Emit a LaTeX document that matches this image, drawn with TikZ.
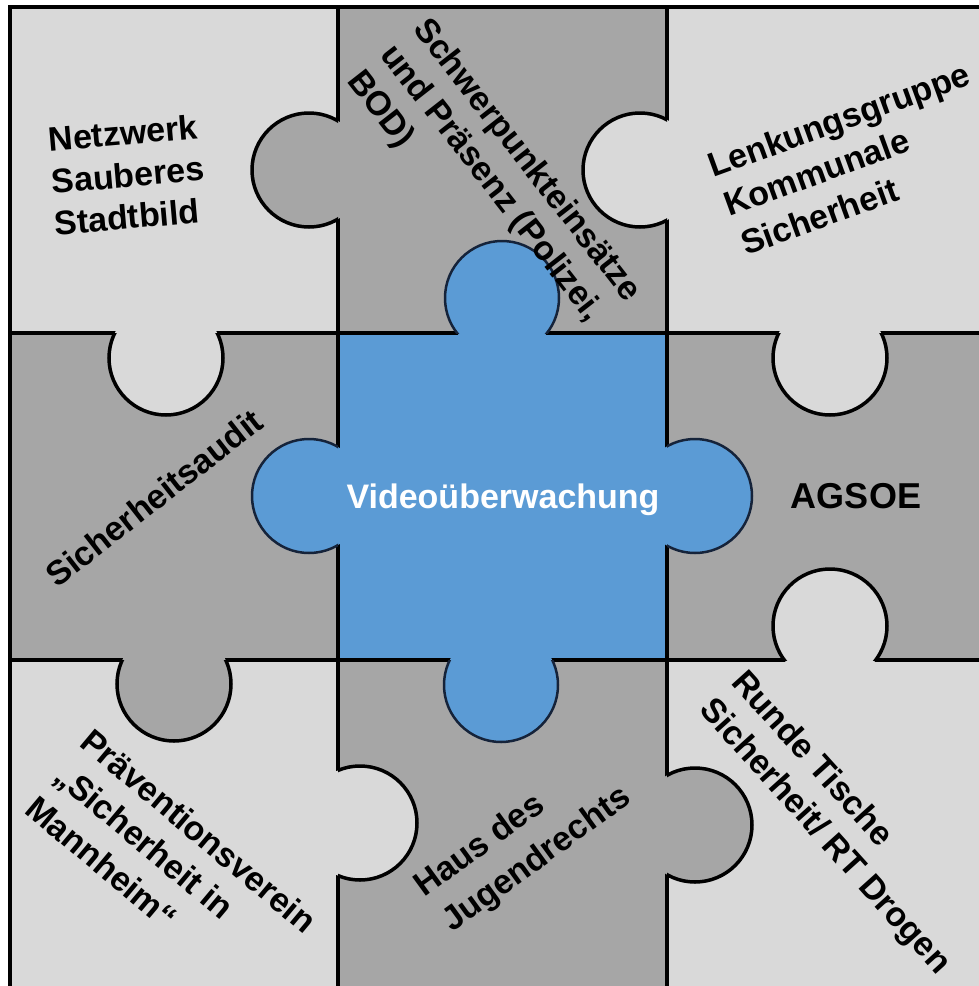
\documentclass[tikz,border=0pt]{standalone}
\usepackage{fontspec}
\setmainfont{Liberation Sans}
\definecolor{lightp}{HTML}{D9D9D9}
\definecolor{darkp}{HTML}{A6A6A6}
\definecolor{bluep}{HTML}{5B9BD5}
\definecolor{blueline}{HTML}{15233A}
\newcommand\puzzleknob[6]{%
  \fill[#3] (#1,#2) circle[radius=57];
  \begin{scope}\clip #4 rectangle #5; \draw[#6] (#1,#2) circle[radius=57];\end{scope}}
\begin{document}
\begin{tikzpicture}[x=1pt,y=-1pt,
  gridline/.style={line width=4pt, draw=black},
  knobline/.style={line width=3.5pt, draw=black},
  blueknob/.style={line width=2.5pt, draw=blueline},
  lbl/.style={font=\fontsize{34}{41}\selectfont\bfseries, inner sep=0pt, text=black}]
\useasboundingbox (0,0) rectangle (979,986);
\clip (0,0) rectangle (979,986);
\fill[white] (0,0) rectangle (979,986);
% cells
\fill[lightp] (10,7) rectangle (338,333);
\fill[darkp]  (338,7) rectangle (667,333);
\fill[lightp] (667,7) rectangle (1000,333);
\fill[darkp]  (10,333) rectangle (338,660);
\fill[bluep]  (338,333) rectangle (667,660);
\fill[darkp]  (667,333) rectangle (1000,660);
\fill[lightp] (10,660) rectangle (338,1000);
\fill[darkp]  (338,660) rectangle (667,1000);
\fill[lightp] (667,660) rectangle (1000,1000);
% grid
\draw[gridline] (8,7) -- (1000,7);
\draw[gridline] (10,5) -- (10,1000);
\draw[gridline] (338,7) -- (338,1000);
\draw[gridline] (667,7) -- (667,1000);
\draw[gridline] (10,333) -- (1000,333);
\draw[gridline] (10,660) -- (1000,660);
% knobs
\puzzleknob{309}{170}{darkp}{(0,7)}{(338,333)}{knobline}
\puzzleknob{640}{170}{lightp}{(338,7)}{(667,333)}{knobline}
\puzzleknob{166}{358}{lightp}{(10,333)}{(338,660)}{knobline}
\puzzleknob{830}{358}{lightp}{(667,333)}{(1000,660)}{knobline}
\puzzleknob{502}{298}{bluep}{(338,7)}{(667,333)}{blueknob}
\puzzleknob{309}{496}{bluep}{(10,333)}{(338,660)}{blueknob}
\puzzleknob{695}{496}{bluep}{(667,333)}{(1000,660)}{blueknob}
\puzzleknob{501}{685}{bluep}{(338,660)}{(667,1000)}{blueknob}
\puzzleknob{830}{626}{lightp}{(667,333)}{(1000,660)}{knobline}
\puzzleknob{174}{684}{darkp}{(10,660)}{(338,1000)}{knobline}
\puzzleknob{360}{823}{lightp}{(338,660)}{(667,1000)}{knobline}
\puzzleknob{695}{825}{darkp}{(667,660)}{(1000,1000)}{knobline}
% labels
\node[lbl, rotate=5, anchor=base] (nw1) at (124,145) {Netzwerk};
\node[lbl, rotate=5, anchor=base] (nw2) at (129,187) {Sauberes};
\node[lbl, rotate=5, anchor=base] (nw3) at (128,229) {Stadtbild};
\node[lbl, rotate=-52, anchor=base west] (sp1) at (412,29) {Schwerpunkteinsätze};
\node[lbl, rotate=-52, anchor=base west] (sp2) at (379,55) {und Präsenz (Polizei,};
\node[lbl, rotate=-52, anchor=base west] (sp3) at (346,81) {BOD)};
\node[lbl, rotate=20, anchor=base west] (lk1) at (713,178) {Lenkungsgruppe};
\node[lbl, rotate=20, anchor=base west] (lk2) at (729,217) {Kommunale};
\node[lbl, rotate=20, anchor=base west] (lk3) at (746,256) {Sicherheit};
\node[lbl, rotate=38, anchor=base west] (sa) at (57,589) {Sicherheitsaudit};
\node[lbl, text=white, anchor=base] (vu) at (503,508) {Videoüberwachung};
\node[lbl, font=\fontsize{36}{43}\selectfont\bfseries, anchor=base] (ag) at (856,508) {AGSOE};
\node[lbl, rotate=-40, anchor=base west] (pv1) at (78,745) {Präventionsverein};
\node[lbl, rotate=-40, anchor=base west] (pv2) at (52,779) {„Sicherheit in};
\node[lbl, rotate=-40, anchor=base west] (pv3) at (23,812) {Mannheim“};
\node[lbl, rotate=36, anchor=base west] (hj1) at (424,898) {Haus des};
\node[lbl, rotate=36, anchor=base west] (hj2) at (452,933) {Jugendrechts};
\node[lbl, rotate=-48, anchor=base west] (rt1) at (730,683) {Runde Tische};
\node[lbl, rotate=-48, anchor=base west] (rt2) at (698,710) {Sicherheit/ RT Drogen};
\end{tikzpicture}
\end{document}
